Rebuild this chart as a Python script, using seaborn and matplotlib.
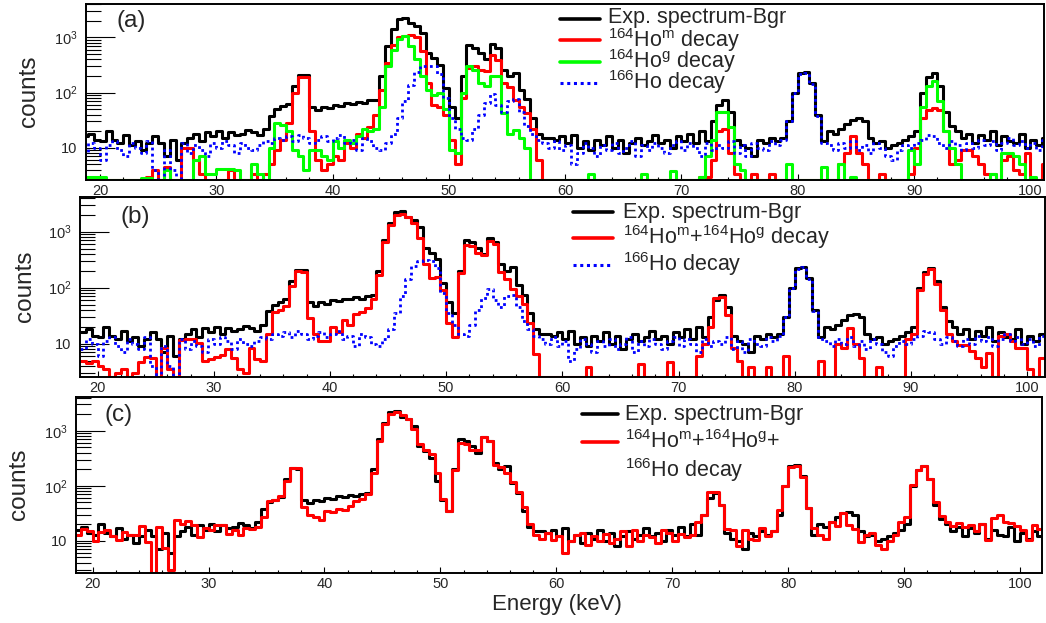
import numpy as np
import pandas as pd
import matplotlib
matplotlib.use("Agg")
import matplotlib.pyplot as plt
from matplotlib.lines import Line2D
from matplotlib.ticker import FixedLocator, MultipleLocator, LogLocator, FuncFormatter, NullFormatter
import seaborn as sns

sns.set_style("ticks")
plt.rcParams['font.family'] = ['Liberation Sans', 'DejaVu Sans']
plt.rcParams['mathtext.fontset'] = 'custom'
plt.rcParams['mathtext.rm'] = 'Liberation Sans'
plt.rcParams['mathtext.it'] = 'Liberation Sans'
plt.rcParams['mathtext.bf'] = 'Liberation Sans:bold'

## spectra, 0.5 keV bins starting at 18.5 keV
e_start = 18.5
bin_w = 0.5

exp_bgr = [16, 18, 14, 13, 20, 14, 12, 17, 11, 13,
           9, 12, 16, 12, 7, 14, 6, 12, 15, 18,
           13, 19, 16, 20, 15, 19, 17, 18, 21, 19,
           17, 22, 38, 50, 56, 62, 130, 210, 205, 55,
           48, 55, 52, 60, 57, 64, 62, 68, 64, 72,
           74, 200, 700, 1400, 2200, 2300, 1800, 1600, 1200, 520,
           420, 320, 120, 55, 35, 200, 720, 650, 520, 400,
           760, 650, 260, 200, 230, 110, 75, 35, 18, 15,
           15, 14, 16, 12, 17, 10, 13, 9, 14, 11,
           16, 10, 14, 8, 12, 15, 11, 13, 17, 12,
           14, 10, 16, 13, 18, 12, 20, 13, 30, 60,
           74, 45, 14, 11, 10, 7, 14, 12, 15, 13,
           15, 30, 100, 225, 235, 150, 40, 13, 20, 18,
           22, 27, 32, 34, 30, 15, 12, 13, 10, 11,
           12, 14, 16, 20, 100, 190, 225, 130, 45, 25,
           20, 15, 18, 12, 17, 14, 20, 11, 16, 13,
           12, 18, 10, 14, 11, 15, 12]

ho164m = [2, 1.5, 2, 1, 2, 1.5, 1, 2, 1.5, 1,
          2, 3, 4, 0.5, 4.5, 2, 1, 10, 10, 6,
          3.4, 1.5, 2, 1.5, 2, 4, 1.5, 2, 1.5, 3.4,
          2, 3.4, 5, 9, 14, 28, 100, 190, 190, 20,
          6, 4, 5, 7, 6, 12, 10, 18, 15, 24,
          40, 110, 350, 720, 1000, 1050, 1100, 1020, 560, 150,
          60, 55, 40, 14, 5, 80, 280, 300, 260, 250,
          480, 390, 150, 127, 73, 55, 42, 22, 6, 0.5,
          0.5, 0.5, 1, 0.5, 0.5, 1.5, 0.5, 0.5, 1, 0.5,
          0.5, 1, 0.5, 0.5, 1.5, 0.5, 1, 0.5, 0.5, 1,
          0.5, 1, 0.5, 0.5, 1, 0.5, 3, 3, 6, 20,
          22, 8, 3.4, 1, 0.5, 3.4, 0.5, 1, 3.4, 0.5,
          0.5, 1, 0.5, 0.5, 0.5, 0.5, 1, 0.5, 1, 1.5,
          5, 8, 16, 8, 5, 1, 0.5, 3.4, 1, 0.5,
          0.5, 1, 3.4, 10, 35, 48, 52, 48, 20, 5,
          6, 9, 9, 7, 5, 3.4, 3.4, 1, 6, 7,
          4, 3.4, 8, 0.5, 1, 5, 5]

ho164g = [3, 3, 3, 3, 1.5, 1, 2, 1.5, 1, 2,
          2.8, 2.8, 1.5, 0.5, 4, 1.5, 1, 1.5, 2, 6,
          7, 3.4, 3.4, 4.2, 4.2, 4.2, 4, 1.5, 1.5, 5,
          3.4, 1.5, 10, 28, 26, 20, 9, 7, 4, 9,
          9, 7, 6, 13, 10, 14, 12, 16, 22, 20,
          22, 55, 300, 600, 950, 1050, 700, 400, 200, 110,
          90, 100, 50, 9, 8, 100, 300, 260, 150, 130,
          200, 200, 42, 18, 21, 15, 10, 1, 0.5, 0.5,
          0.5, 0.5, 0.5, 0.5, 0.5, 0.5, 0.5, 3.4, 0.5, 0.5,
          0.5, 0.5, 0.5, 0.5, 0.5, 0.5, 3.4, 0.5, 0.5, 0.5,
          0.5, 3.8, 0.5, 0.5, 0.5, 1, 3, 7, 14, 45,
          45, 24, 5, 4, 0.5, 0.5, 0.5, 0.5, 0.5, 0.5,
          0.5, 5, 0.5, 0.5, 0.5, 0.5, 0.5, 4.5, 0.5, 0.5,
          5, 0.5, 3, 2, 0.5, 0.5, 0.5, 0.5, 0.5, 0.5,
          0.5, 0.5, 9, 5, 55, 130, 160, 70, 20, 10,
          5, 0.5, 0.5, 0.5, 0.5, 0.5, 3.4, 0.5, 8, 8,
          7, 5, 0.5, 3, 0.5, 0.5, 0.5]

ho166 = [8, 12, 10, 6, 11, 13, 9, 7, 12, 10,
         8, 13, 4, 1.5, 9, 4, 1, 12, 8, 11,
         9, 7, 12, 10, 13, 11, 8, 12, 10, 9,
         11, 13, 12, 15, 14, 16, 13, 17, 15, 12,
         14, 16, 13, 15, 17, 12, 14, 9, 15, 13,
         10, 9, 12, 18, 35, 70, 140, 240, 300, 310,
         300, 220, 80, 35, 22, 15, 14, 22, 40, 65,
         95, 60, 45, 70, 75, 45, 25, 18, 14, 12,
         10, 13, 9, 11, 5, 8, 12, 10, 7, 11,
         9, 12, 8, 10, 13, 7, 11, 9, 12, 10,
         8, 11, 13, 9, 12, 10, 7, 12, 9, 11,
         10, 13, 8, 11, 7, 12, 10, 9, 13, 11,
         14, 30, 100, 215, 230, 145, 38, 12, 11, 9,
         12, 10, 13, 9, 11, 8, 12, 10, 7, 6,
         9, 11, 10, 12, 14, 17, 16, 12, 10, 13,
         11, 9, 12, 10, 14, 11, 13, 9, 12, 15,
         11, 13, 10, 12, 9, 14, 11]

exp_bgr = np.array(exp_bgr, dtype=float)
ho164m = np.array(ho164m, dtype=float)
ho164g = np.array(ho164g, dtype=float)
ho166 = np.array(ho166, dtype=float)

nbins = len(exp_bgr)
edges = e_start + bin_w * np.arange(nbins + 1)
centers = edges[:-1] + bin_w / 2

# model sums shown in panels (b) and (c)
ho164_sum = ho164m + ho164g
all_sum = ho164m + ho164g + ho166

W, H = 1046, 623
fig = plt.figure(figsize=(W / 100, H / 100), dpi=100)
fig.patch.set_facecolor('white')


def px_box(left, right, top, bottom):
    return [left / W, 1 - bottom / H, (right - left) / W, (bottom - top) / H]


def fx(x):
    return x / W


def fy(y):
    return 1 - y / H


panels = [
    dict(box=px_box(86, 1044, 3.5, 180), xlim=(18.80, 101.17), ylim=(2.6, 4130)),
    dict(box=px_box(80, 1045, 197, 377), xlim=(18.49, 101.54), ylim=(2.55, 4150)),
    dict(box=px_box(75.5, 1041.7, 397, 573), xlim=(18.52, 101.87), ylim=(2.6, 4100)),
]


def ytick_fmt(v, pos):
    if abs(v - 10) < 1e-6:
        return "10"
    return r"$10^{%d}$" % int(round(np.log10(v)))


def draw_hist(ax, vals, color, floor, lw=2.2, ls='-'):
    d = pd.DataFrame({'E': centers, 'n': np.clip(vals, floor, None)})
    sns.histplot(data=d, x='E', weights='n', bins=list(edges),
                 element='step', fill=False, color=color, linewidth=lw,
                 linestyle=ls, ax=ax)


dotted = (0, (1, 1.2))
axes = [fig.add_axes(p['box']) for p in panels]
ax_a, ax_b, ax_c = axes
fa, fb, fc = [p['ylim'][0] for p in panels]

draw_hist(ax_a, exp_bgr, 'black', fa)
draw_hist(ax_a, ho164m, '#ff0000', fa)
draw_hist(ax_a, ho164g, '#00ff00', fa)
draw_hist(ax_a, ho166, '#0000ff', fa, lw=2.0, ls=dotted)

draw_hist(ax_b, exp_bgr, 'black', fb)
draw_hist(ax_b, ho164_sum, '#ff0000', fb)
draw_hist(ax_b, ho166, '#0000ff', fb, lw=2.0, ls=dotted)

draw_hist(ax_c, exp_bgr, 'black', fc)
draw_hist(ax_c, all_sum, '#ff0000', fc)

for ax, p in zip(axes, panels):
    ax.set_yscale('log')
    ax.set_xlim(*p['xlim'])
    ax.set_ylim(*p['ylim'])
    ax.set_xlabel('')
    ax.set_ylabel('')
    ax.set_facecolor('white')
    ax.xaxis.set_major_locator(MultipleLocator(10))
    ax.xaxis.set_minor_locator(MultipleLocator(2))
    ax.yaxis.set_major_locator(FixedLocator([10, 100, 1000]))
    ax.yaxis.set_major_formatter(FuncFormatter(ytick_fmt))
    ax.yaxis.set_minor_locator(LogLocator(base=10, subs=np.arange(2, 10), numticks=30))
    ax.yaxis.set_minor_formatter(NullFormatter())
    ax.tick_params(axis='x', which='major', direction='in', length=4.3, width=0.8,
                   labelsize=10.5, pad=3, top=False, color='black')
    ax.tick_params(axis='x', which='minor', direction='in', length=2.4, width=0.8,
                   top=False, color='black')
    ax.tick_params(axis='y', which='major', direction='in', length=21, width=0.8,
                   labelsize=10.5, pad=6, right=False, color='black')
    ax.tick_params(axis='y', which='minor', direction='in', length=10.5, width=0.8,
                   right=False, color='black')
    for s in ax.spines.values():
        s.set_visible(True)
        s.set_linewidth(1.4)
        s.set_color('black')

## y labels and panel letters
for (xc, yc) in [(29, 91), (25, 286), (19, 484)]:
    fig.text(fx(xc), fy(yc), 'counts', rotation=90, ha='center', va='center', fontsize=17.5)

for lab, xl, yc in [('(a)', 117, 21.5), ('(b)', 120, 217.5), ('(c)', 105, 415)]:
    fig.text(fx(xl), fy(yc), lab, ha='left', va='center', fontsize=17.5)

fig.text(fx(557), fy(610), 'Energy (keV)', ha='center', va='baseline', fontsize=16)


## legends drawn by hand to keep the tight ROOT line spacing
def key(x0, x1, y, color, ls='-', lw=2.6):
    fig.add_artist(Line2D([fx(x0), fx(x1)], [fy(y), fy(y)], color=color,
                          linestyle=ls, linewidth=lw, transform=fig.transFigure))


def label(x, ybase, txt):
    fig.text(fx(x), fy(ybase), txt, ha='left', va='baseline', fontsize=15.5)


# (a)
key(560, 600, 19, 'black')
key(560, 600, 40, '#ff0000')
key(560, 600, 62, '#00ff00')
key(560, 600, 83, '#0000ff', ls=dotted, lw=2.2)
label(608, 23, 'Exp. spectrum-Bgr')
label(608, 46.5, r'$^{164}$Ho$^{\mathrm{m}}$ decay')
label(608, 68.3, r'$^{164}$Ho$^{\mathrm{g}}$ decay')
label(608, 89.3, r'$^{166}$Ho decay')

# (b)
key(573, 613, 212.3, 'black')
key(573, 613, 237.7, '#ff0000')
key(573, 613, 265, '#0000ff', ls=dotted, lw=2.2)
label(623, 218.3, 'Exp. spectrum-Bgr')
label(623, 244, r'$^{164}$Ho$^{\mathrm{m}}$+$^{164}$Ho$^{\mathrm{g}}$ decay')
label(623, 270.7, r'$^{166}$Ho decay')

# (c)
key(582, 618, 414, 'black')
key(582, 618, 442, '#ff0000')
label(625, 420, 'Exp. spectrum-Bgr')
label(625, 448.3, r'$^{164}$Ho$^{\mathrm{m}}$+$^{164}$Ho$^{\mathrm{g}}$+')
label(625, 477.3, r'$^{166}$Ho decay')

fig.savefig('out.png', dpi=100, facecolor='white')
